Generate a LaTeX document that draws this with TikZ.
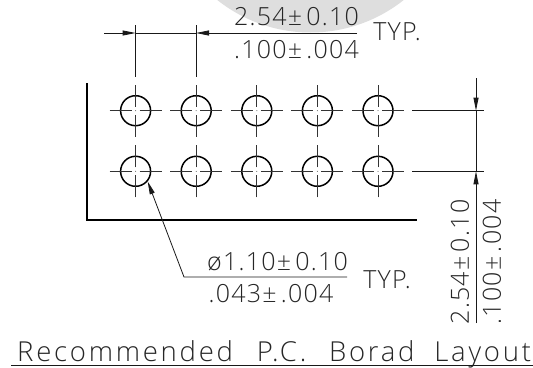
\documentclass[tikz,border=0pt]{standalone}
\usepackage{fontspec}
\setmainfont[UprightFont=* Light,LetterSpace=5]{Open Sans}
\newfontfamily\titlefont[UprightFont=* Light,LetterSpace=10]{Open Sans}
\usetikzlibrary{arrows.meta}
\tikzset{
    dimline/.style={line width=0.8pt,black!90},
    centerline/.style={line width=0.7pt,black!80},
    holeline/.style={line width=1.5pt},
    boardline/.style={line width=1.7pt},
    dimarrow/.style={-{Triangle[length=13pt,width=5pt]}},
    dimtext/.style={inner sep=0,text=black!85,font=\fontsize{25}{25}\selectfont},
    typtext/.style={inner sep=0,text=black!85,font=\fontsize{25}{25}\selectfont},
    titletext/.style={inner sep=0,text=black!85,font=\titlefont\fontsize{27.5}{27.5}\selectfont},
}
\begin{document}
\begin{tikzpicture}[x=1pt,y=-1pt]
    \useasboundingbox (0,0) rectangle (533,367);
    \pgfmathsetmacro{\holeradius}{15}
    \pgfmathsetmacro{\holepitch}{60.6}
    % grey mark behind the top dimension
    \begin{scope}
        \clip (0,0) rectangle (533,367);
        \fill[black!13] (310.5,-117.5) circle[radius=150pt];
    \end{scope}
    % board corner
    \coordinate (boardtop) at (87,83);
    \coordinate (boardcorner) at (87,220);
    \coordinate (boardend) at (417,220);
    \draw[boardline] (boardtop) -- (boardcorner) -- (boardend);
    % holes with centre marks
    \foreach \col in {0,...,4}
        \foreach \row/\ypos in {1/110.7,2/171.3}
        {
            \pgfmathsetmacro{\xpos}{135.6+\col*\holepitch}
            \node[circle,draw,holeline,minimum size=2*\holeradius pt,inner sep=0] (hole\row\col) at (\xpos,\ypos) {};
            \draw[centerline] ([xshift=-26pt]hole\row\col.center) -- ([xshift=-4pt]hole\row\col.center);
            \draw[centerline] ([xshift=4pt]hole\row\col.center) -- ([xshift=26pt]hole\row\col.center);
            \draw[centerline] ([yshift=-26pt]hole\row\col.center) -- ([yshift=-4pt]hole\row\col.center);
            \draw[centerline] ([yshift=4pt]hole\row\col.center) -- ([yshift=26pt]hole\row\col.center);
            \fill[black!75] (hole\row\col.center) circle (0.5pt);
        }
    % top dimension
    \coordinate (topleft) at (135.6,33);
    \coordinate (topright) at (196,33);
    \draw[dimline] (135.6,25) -- (135.6,77);
    \draw[dimline] (196,25) -- (196,77);
    \coordinate (arrowstartl) at (104,33);
    \coordinate (arrowstartr) at (357,33);
    \draw[dimline] (topleft) -- (topright);
    \draw[dimline,dimarrow] (arrowstartl) -- (topleft);
    \draw[dimline,dimarrow] (arrowstartr) -- (topright);
    \node[dimtext] (topupper) at (296.5,17) {2.54±\,0.10};
    \node[dimtext] (toplower) at (296.5,50) {.100±\,.004};
    \node[typtext] (toptyp) at (397,32) {TYP.};
    % right dimension
    \draw[dimline] (412,110.7) -- (484,110.7);
    \draw[dimline] (412,171.3) -- (484,171.3);
    \coordinate (rightupper) at (476,110.7);
    \coordinate (rightlower) at (476,171.3);
    \coordinate (rightupperstart) at (476,78);
    \coordinate (rightlowerstart) at (476,323);
    \draw[dimline] (rightupper) -- (rightlower);
    \draw[dimline,dimarrow] (rightupperstart) -- (rightupper);
    \draw[dimline,dimarrow] (rightlowerstart) -- (rightlower);
    \node[dimtext,rotate=90] (sideupper) at (460,262) {2.54±\,0.10};
    \node[dimtext,rotate=90] (sidelower) at (492,262) {.100±\,.004};
    % hole callout
    \coordinate (calloutknee) at (184,277);
    \coordinate (calloutend) at (347,277);
    \draw[dimline,dimarrow] (calloutend) -- (calloutknee) -- (hole20.-40);
    \node[dimtext] (calloutupper) at (277.5,262) {ø1.10±\,0.10};
    \node[dimtext] (calloutlower) at (271,294) {.043±\,.004};
    \node[typtext] (callouttyp) at (387,280) {TYP.};
    % title
    \node[titletext,anchor=base west] (title) at (17,361) {Recommended\ \ \hspace{4pt}P.C.\ \ \hspace{3pt}Borad\ \ Layout};
    \coordinate (titleleft) at (11,365);
    \coordinate (titleright) at (533,365);
    \draw[dimline] (titleleft) -- (titleright);
\end{tikzpicture}
\end{document}
